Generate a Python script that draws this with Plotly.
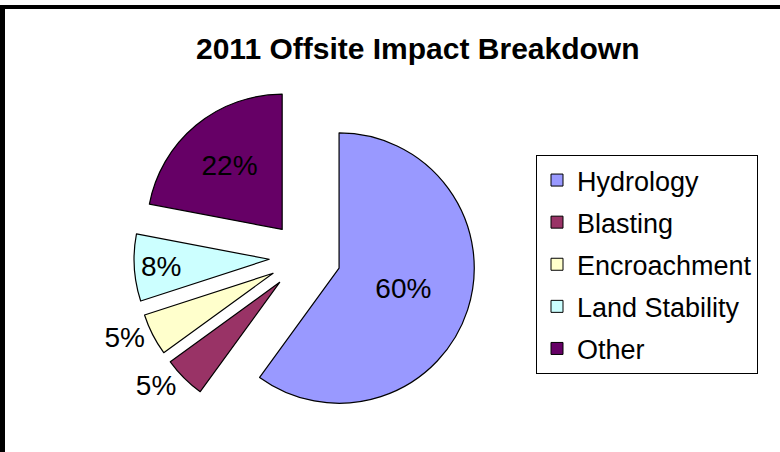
import plotly.graph_objects as go

labels = ["Hydrology", "Blasting", "Encroachment", "Land Stability", "Other"]
values = [60, 5, 5, 8, 22]
colors = ["#9999FF", "#993366", "#FFFFCC", "#CCFFFF", "#660066"]
text_positions = ["inside", "outside", "outside", "inside", "inside"]
title_text = "2011 Offsite Impact Breakdown"

W, H = 780, 452
FONT = "Liberation Sans, Arial, sans-serif"

fig = go.Figure()
fig.add_trace(go.Pie(
    labels=labels,
    values=values,
    sort=False,
    direction="clockwise",
    rotation=0,
    pull=[0.265] * len(values),
    marker=dict(colors=colors, line=dict(color="#000000", width=1.2)),
    textinfo="percent",
    texttemplate="%{percent:.0%}",
    textposition=text_positions,
    insidetextorientation="horizontal",
    textfont=dict(family=FONT, size=28, color="#000000"),
    domain=dict(x=[134 / W, 476 / W], y=[1 - 428 / H, 1 - 86 / H]),
    hoverinfo="label+percent",
    showlegend=False,
))

# legend entries (one per category, so that the vertical gap can be set)
for lab, col in zip(labels, colors):
    fig.add_trace(go.Scatter(
        x=[None], y=[None], mode="markers", name=lab, legendgroup=lab,
        marker=dict(symbol="square", size=12, color=col,
                    line=dict(color="#000000", width=1)),
        showlegend=True, hoverinfo="skip",
    ))

fig.update_layout(
    width=W, height=H,
    margin=dict(l=0, r=0, t=0, b=0, autoexpand=False),
    paper_bgcolor="#FFFFFF",
    plot_bgcolor="#FFFFFF",
    xaxis=dict(visible=False),
    yaxis=dict(visible=False),
    title=dict(text="<b>" + title_text + "</b>", x=196 / W, xanchor="left",
               y=1 - 48 / H, yanchor="middle", yref="container", xref="container",
               font=dict(family=FONT, size=30, color="#000000")),
    legend=dict(
        x=536 / W, xanchor="left", y=1 - 155 / H, yanchor="top",
        bordercolor="#000000", borderwidth=1, bgcolor="#FFFFFF",
        font=dict(family=FONT, size=27, color="#000000"),
        traceorder="grouped", tracegroupgap=4, itemsizing="trace",
        entrywidth=203, entrywidthmode="pixels",
    ),
    shapes=[
        dict(type="line", xref="paper", yref="paper", x0=0, x1=1,
             y0=1 - 7 / H, y1=1 - 7 / H, line=dict(color="#000000", width=4)),
        dict(type="line", xref="paper", yref="paper", x0=2.5 / W, x1=2.5 / W,
             y0=0, y1=1 - 5 / H, line=dict(color="#000000", width=5)),
    ],
)

fig.write_html("out.html", config={"displayModeBar": False},
               post_script="document.body.style.margin='0';")
